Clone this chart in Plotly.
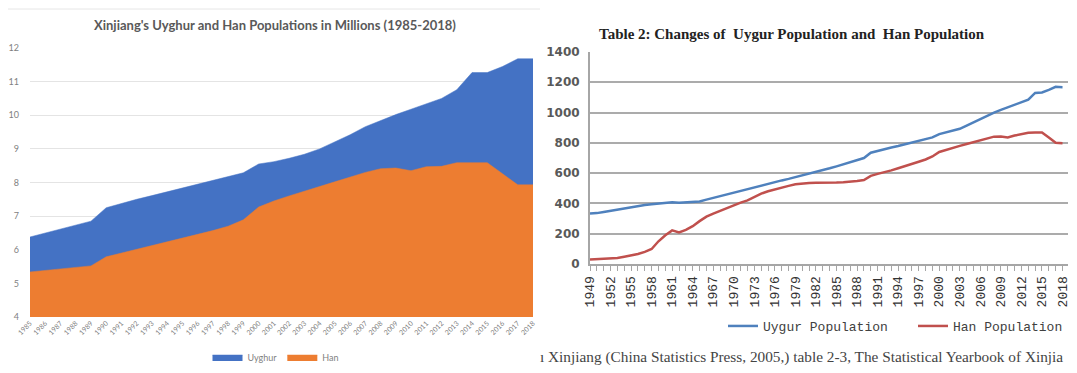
import plotly.graph_objects as go

# ---------- Left chart data (millions) ----------
years_l = list(range(1985, 2019))
uyghur_m = [6.38, 6.50, 6.62, 6.73, 6.85, 7.25, 7.38, 7.50, 7.61, 7.72,
            7.84, 7.95, 8.06, 8.18, 8.29, 8.55, 8.62, 8.72, 8.84, 9.00,
            9.20, 9.42, 9.66, 9.85, 10.02, 10.18, 10.35, 10.50, 10.76, 11.27,
            11.27, 11.45, 11.68, 11.68]
han_m = [5.34, 5.38, 5.43, 5.47, 5.52, 5.79, 5.90, 6.01, 6.12, 6.23,
         6.35, 6.46, 6.57, 6.70, 6.89, 7.27, 7.45, 7.60, 7.73, 7.88,
         8.02, 8.17, 8.30, 8.41, 8.43, 8.35, 8.47, 8.48, 8.59, 8.59,
         8.59, 8.26, 7.93, 7.93]
yticks_l = [4, 5, 6, 7, 8, 9, 10, 11, 12]

# ---------- Right chart data (10k persons) ----------
years_r = list(range(1949, 2019))
uygur_pop = [333, 336, 344, 352, 360, 368, 374, 382, 390, 395,
             400, 405, 408, 405, 408, 410, 413, 425, 437, 449,
             461, 473, 485, 496, 507, 519, 531, 543, 552, 562,
             573, 586, 597, 608, 619, 632, 645, 659, 672, 686,
             700, 735, 748, 758, 769, 779, 790, 800, 812, 824,
             836, 858, 868, 879, 893, 914, 936, 958, 980, 1000,
             1018, 1034, 1050, 1066, 1085, 1130, 1133, 1150, 1170, 1168]
han_pop = [30, 32, 33, 35, 40, 48, 55, 66, 80, 99,
           150, 190, 222, 208, 225, 250, 283, 313, 333, 352,
           370, 388, 405, 420, 445, 465, 480, 493, 505, 516,
           526, 532, 535, 537, 536, 537, 538, 540, 543, 548,
           555, 582, 595, 605, 618, 632, 645, 660, 675, 690,
           710, 740, 755, 768, 780, 792, 805, 818, 830, 841,
           842, 835, 848, 855, 866, 868, 868, 835, 800, 797]
yticks_r = [0, 200, 400, 600, 800, 1000, 1200, 1400]
xlabel_years_r = years_r[::3]

# The page body has an 8px margin, so the figure is drawn at (8, 8).
OFF = 8
FW, FH = 1077 - OFF, 373 - OFF


def px(x):
    return (x - OFF) / FW


def py(y):
    return 1 - (y - OFF) / FH


fig = go.Figure()

# Left chart: overlapping areas
fig.add_trace(go.Scatter(
    x=years_l, y=uyghur_m, name="Uyghur", mode="lines",
    line=dict(color="#4472C4", width=0.5), fill="tozeroy",
    fillcolor="#4472C4", xaxis="x", yaxis="y", legend="legend"))
fig.add_trace(go.Scatter(
    x=years_l, y=han_m, name="Han", mode="lines",
    line=dict(color="#ED7D31", width=0.5), fill="tozeroy",
    fillcolor="#ED7D31", xaxis="x", yaxis="y", legend="legend"))

# Right chart: lines
fig.add_trace(go.Scatter(
    x=years_r, y=uygur_pop, name="Uygur Population", mode="lines",
    line=dict(color="#4F81BD", width=2.5), xaxis="x2", yaxis="y2",
    legend="legend2"))
fig.add_trace(go.Scatter(
    x=years_r, y=han_pop, name="Han Population", mode="lines",
    line=dict(color="#C0504D", width=2.5), xaxis="x2", yaxis="y2",
    legend="legend3"))

tick_text_r = [str(y) if y in xlabel_years_r else "" for y in years_r]

mono = dict(family="Liberation Mono, monospace", size=13, color="#404040")

fig.update_layout(
    width=FW, height=FH,
    margin=dict(l=0, r=0, t=0, b=0, autoexpand=False),
    paper_bgcolor="white", plot_bgcolor="white",
    font=dict(family="Lato, Open Sans, sans-serif", color="#595959"),
    xaxis=dict(domain=[px(30), px(533)], range=[1985, 2018],
               tickvals=years_l, ticktext=[str(y) for y in years_l],
               tickangle=-45, tickfont=dict(size=7, color="#7f7f7f"),
               showgrid=False, zeroline=False, showline=False, ticks="",
               anchor="y", automargin=False),
    yaxis=dict(domain=[py(317), py(48)], range=[4, 12],
               tickvals=yticks_l, tickfont=dict(size=9, color="#7f7f7f"),
               showgrid=True, gridcolor="#E4E4E4", gridwidth=1,
               zeroline=False, showline=False, ticks="",
               ticklabelstandoff=10, anchor="x", automargin=False),
    xaxis2=dict(domain=[px(590), px(1068)], range=[1949, 2018.8],
                tickvals=years_r, ticktext=tick_text_r, tickangle=-90,
                tickfont=dict(family="Liberation Mono, monospace", size=13,
                              color="#333333"),
                ticks="outside", ticklen=5, tickcolor="#A6A6A6",
                showgrid=False, zeroline=False,
                showline=True, linecolor="#A6A6A6", linewidth=2,
                anchor="y2", automargin=False),
    yaxis2=dict(domain=[py(264), py(52)], range=[0, 1400],
                tickvals=yticks_r,
                tickfont=dict(family="DejaVu Sans, sans-serif", size=12,
                              color="#595959", weight=600),
                showgrid=True, gridcolor="#ABABAB", gridwidth=2,
                zeroline=False, showline=True, linecolor="#A6A6A6",
                linewidth=2, ticks="", ticklabelstandoff=6, anchor="x2",
                automargin=False),
    legend=dict(orientation="h", x=px(276), y=py(357), xanchor="center",
                yanchor="middle", font=dict(size=9, color="#7f7f7f"),
                itemwidth=30, bgcolor="rgba(0,0,0,0)"),
    legend2=dict(orientation="h", x=px(723), y=py(326), xanchor="left",
                 yanchor="middle", font=mono, itemwidth=30,
                 bgcolor="rgba(0,0,0,0)"),
    legend3=dict(orientation="h", x=px(913), y=py(326), xanchor="left",
                 yanchor="middle", font=mono, itemwidth=30,
                 bgcolor="rgba(0,0,0,0)"),
    showlegend=True,
    annotations=[
        dict(text="<b>Xinjiang's Uyghur and Han Populations in Millions (1985-2018)</b>",
             x=px(275), y=py(25), xref="paper", yref="paper",
             xanchor="center", yanchor="middle", showarrow=False,
             font=dict(family="Lato, Open Sans, sans-serif", size=13,
                       color="#595959")),
        dict(text="<b>Table 2: Changes of  Uygur Population and  Han Population</b>",
             x=px(597), y=py(34), xref="paper", yref="paper",
             xanchor="left", yanchor="middle", showarrow=False,
             font=dict(family="Liberation Serif, serif", size=15,
                       color="#222222")),
        dict(text="ı Xinjiang (China Statistics Press, 2005,) table 2-3, The Statistical Yearbook of Xinjia",
             x=px(538), y=py(357), xref="paper", yref="paper",
             xanchor="left", yanchor="middle", showarrow=False,
             font=dict(family="Liberation Serif, serif", size=15.3,
                       color="#444444")),
    ],
    shapes=[
        dict(type="line", xref="paper", yref="paper",
             x0=0, x1=px(540), y0=py(9), y1=py(9),
             line=dict(color="#E6E6E6", width=1)),
    ],
)

fig.write_html("out.html")
